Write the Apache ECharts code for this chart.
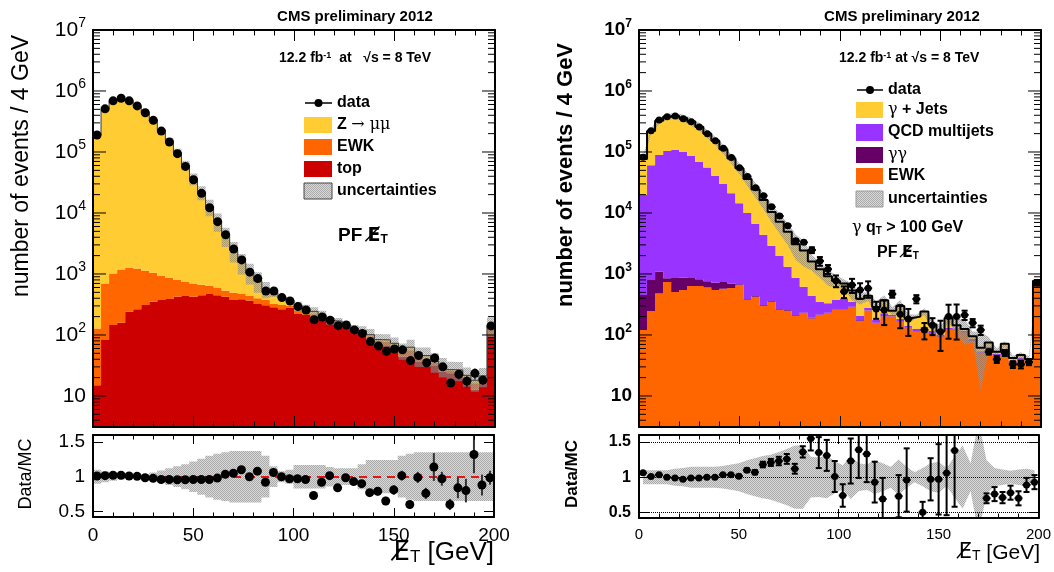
<!DOCTYPE html>
<html>
<head>
<meta charset="utf-8">
<title>PF MET - CMS preliminary 2012</title>
<script src="https://cdn.jsdelivr.net/npm/echarts@6.0.0/dist/echarts.min.js"></script>
<style>
  html, body { margin: 0; padding: 0; background: #fff; }
  #chart { width: 1054px; height: 572px; }
</style>
</head>
<body>
<div id="chart"></div>
<script>
// 50 bins of 4 GeV, the last one also holds the overflow
var binWidth = 4;
var binLow = [];
for (var i = 0; i < 50; i++) binLow.push(i * binWidth);
var binMid = binLow.map(function (x) { return x + binWidth / 2; });

// ---- left: Z -> mumu ----
var topL = [15, 83, 146, 158, 240, 263, 310, 350, 375, 390, 425, 436, 425, 447, 470, 447, 425, 375, 385, 366,
    322, 307, 284, 263, 280, 221, 212, 196, 176, 155, 147, 134, 113, 100, 83, 73, 66, 57, 44, 44,
    36, 32, 31, 25, 23.5, 20.7, 18.3, 12.6, 18.3, 100];
var ewkL = [113, 602, 874, 1032, 1030, 967, 820, 700, 550, 470, 370, 304, 275, 221, 165, 153, 107, 117, 95, 70,
    78, 68, 38, 47, 20, 27, 25, 23, 21, 12, 15, 10, 11, 12, 12, 8, 12, 10, 8, 12,
    7, 9, 4, 4, 2.5, 4, 2.5, 3.5, 2, 35];
var zmmL = [187900, 499000, 679000, 744000, 679000, 566000, 446000, 337000, 228000, 151100, 97200, 60000, 35800, 21200, 12000,
    6750, 3730, 1960, 1070, 634, 378, 195, 173, 100, 71, 52, 31, 25, 17, 4, 7, 4, 6, 6, 6, 3, 5, 6, 4, 7,
    3, 5, 2, 2, 1, 2, 1, 2, 1, 8];
var dataL = [190000, 510000, 690000, 760000, 690000, 570000, 440000, 330000, 220000, 146000, 94000, 58000, 35000, 21000, 12200,
    7200, 4400, 2570, 1700, 1070, 840, 525, 525, 410, 360, 292, 257, 178, 197, 174, 142, 146, 121, 106, 78,
    66, 54, 59, 57, 38, 46, 35, 42, 30, 16.3, 22.7, 17.5, 23.5, 18.2, 141];
var ratioL = [1.01, 1.015, 1.02, 1.02, 1.01, 1.005, 0.985, 0.976, 0.96, 0.96, 0.956, 0.956, 0.96, 0.96, 0.96,
    0.98, 1.034, 1.05, 1.10, 1.0, 1.08, 0.92, 1.06, 1.0, 0.97, 0.97, 0.96, 0.73, 0.92, 1.015,
    0.84, 0.985, 0.93, 0.90, 0.77, 0.79, 0.65, 0.81, 1.015, 0.60, 0.99, 0.76, 1.14, 0.97, 0.60,
    0.84, 0.80, 1.32, 0.88, 0.985];
var ratioErrL = [0.005, 0.005, 0.005, 0.005, 0.005, 0.005, 0.005, 0.005, 0.005, 0.005, 0.005, 0.005, 0.005, 0.005, 0.005,
    0.005, 0.005, 0.005, 0.005, 0.005, 0.01, 0.01, 0.01, 0.01, 0.01, 0.01, 0.02, 0.03, 0.03, 0.04,
    0.04, 0.04, 0.05, 0.05, 0.05, 0.06, 0.06, 0.07, 0.07, 0.06, 0.08, 0.08, 0.2, 0.1, 0.08,
    0.15, 0.17, 0.27, 0.15, 0.1];
var uncL = [0.1, 0.08, 0.06, 0.04, 0.03, 0.02, 0.03, 0.06, 0.09, 0.12, 0.15, 0.18, 0.22, 0.26, 0.3,
    0.33, 0.35, 0.37, 0.37, 0.37, 0.37, 0.3, 0.15, 0.08, 0.1, 0.17, 0.17, 0.17, 0.17, 0.14,
    0.12, 0.12, 0.12, 0.18, 0.24, 0.24, 0.24, 0.24, 0.3, 0.33, 0.35, 0.35, 0.35, 0.35, 0.35,
    0.35, 0.35, 0.35, 0.35, 0.35];

// ---- right: photon + jets ----
var ewkR = [121, 247, 480, 740, 507, 547, 635, 635, 600, 547, 575, 590, 660, 375, 425, 302, 350, 257, 250, 205,
    227, 186, 212, 227, 257, 257, 285, 170, 251, 155, 200, 200, 165, 129, 113, 121, 106, 94, 121, 121,
    110, 80, 50, 60, 45, 55, 35, 38, 33, 720];
var ggR = [330, 550, 620, 110, 350, 320, 225, 185, 160, 170, 165, 110, 20, 10, 12, 8, 10, 7, 7, 6,
    6, 5, 5, 5, 5, 4, 4, 4, 3, 3, 3, 3, 3, 2, 2, 2, 2, 2, 2, 2, 2, 2, 1, 1, 1, 1, 1, 1, 1, 2];
var qcdR = [19200, 60000, 88000, 103000, 107000, 99000, 85000, 68000, 55000, 40000, 29000, 20300, 13700, 9600, 6200,
    4100, 2550, 1700, 1060, 660, 384, 245, 133, 98, 113, 140, 60, 30, 25, 20, 25, 12, 15, 10, 10,
    12, 8, 6, 8, 6, 5, 4, 3, 4, 3, 4, 2, 3, 2, 10];
var gjR = [57300, 161000, 235000, 276000, 286000, 260000, 231000, 191000, 144000, 112000, 81000, 57000, 39600, 26000, 17700,
    11900, 7500, 5200, 3600, 2200, 1800, 1160, 850, 586, 393, 295, 188, 190, 159, 109, 144, 35, 117, 49, 75,
    107, 32, 14, 58, 16, 8, 9, 8, 10, 4, 12, 4, 5, 4, 42];
var dataR = [82000, 224000, 335000, 380000, 390000, 350000, 314000, 257000, 200000, 153000, 115000, 81000, 55000, 39500, 26000,
    19200, 12600, 8900, 6200, 3500, 3300, 2470, 1630, 1200, 776, 514, 660, 547, 582, 267, 257, 470, 219, 182, 390,
    121, 144, 113, 200, 200, 213, 158, 121, 53, 40, 51, 33, 33, 36, 720];
var ratioR = [1.063, 1.01, 1.034, 1.0, 0.99, 0.97, 0.99, 0.99, 1.0, 1.0, 1.034, 1.034, 1.015, 1.10, 1.07,
    1.18, 1.21, 1.23, 1.26, 1.12, 1.36, 1.55, 1.35, 1.31, 1.01, 0.74, 1.23, 1.39, 1.33, 0.93,
    0.69, 1.9, 0.73, 0.96, 1.95, 0.5, 0.97, 0.97, 1.06, 1.38, 2.0, 1.95, 2.0, 0.70, 0.76,
    0.71, 0.78, 0.70, 0.89, 0.93];
var ratioErrR = [0.01, 0.01, 0.01, 0.01, 0.01, 0.01, 0.01, 0.01, 0.01, 0.01, 0.01, 0.015, 0.02, 0.025, 0.03,
    0.04, 0.05, 0.06, 0.07, 0.07, 0.08, 0.17, 0.22, 0.22, 0.22, 0.16, 0.32, 0.4, 0.4, 0.29,
    0.3, 0.25, 0.3, 0.45, 0.3, 0.15, 0.3, 0.5, 0.6, 0.8, 0.35, 0.3, 0.35, 0.07, 0.1,
    0.08, 0.1, 0.1, 0.1, 0.1];
var uncR = [0.1, 0.1, 0.1, 0.1, 0.12, 0.13, 0.15, 0.15, 0.15, 0.15, 0.16, 0.18, 0.2, 0.24, 0.27,
    0.3, 0.32, 0.36, 0.4, 0.45, 0.45, 0.29, 0.28, 0.3, 0.23, 0.17, 0.31, 0.2, 0.18, 0.24,
    0.2, 0.15, 0.25, 0.15, 0.07, 0.13, 0.2, 0.22, 0.13, 0.29, 0.45, 0.2, 0.8, 0.24, 0.13,
    0.11, 0.09, 0.11, 0.12, 0.1];

var logTickLabels = [10, 100, 1e3, 1e4, 1e5, 1e6, 1e7];
var ratioTicks = [0.5, 1, 1.5];
var LOG_MIN = 3.1, LOG_MAX = 1e7;

var FONT = "'Liberation Sans', Arial, Helvetica, sans-serif";
var C_YEL = '#ffcc33', C_ORA = '#ff6600', C_RED = '#cc0000', C_PUR = '#9933ff', C_DPUR = '#660066';

// fine hatch, like the ROOT uncertainty fill
var hatch = (function () {
    var c = document.createElement('canvas');
    c.width = 4; c.height = 4;
    var g = c.getContext('2d');
    g.fillStyle = 'rgba(170,170,170,0.45)';
    g.fillRect(0, 0, 4, 4);
    g.fillStyle = 'rgba(100,100,100,0.4)';
    for (var y = 0; y < 4; y++) for (var x = 0; x < 4; x++) if ((x + y) % 2 === 0) g.fillRect(x, y, 1, 1);
    return { image: c, repeat: 'repeat' };
})();

function cumulate(arrs) {
    var out = [], run = arrs[0].map(function () { return 0; });
    arrs.forEach(function (a) {
        run = run.map(function (s, i) { return s + a[i]; });
        out.push(run);
    });
    return out;
}
var cumL = cumulate([topL, ewkL, zmmL]);
var cumR = cumulate([ewkR, ggR, qcdR, gjR]);
var mcL = cumL[2], mcR = cumR[3];

function stepData(vals) {
    var d = binLow.map(function (x, i) { return [x, vals[i]]; });
    d.push([binLow[binLow.length - 1] + binWidth, vals[vals.length - 1]]);
    return d;
}

// filled region between two per-bin curves; stepped = histogram, otherwise joined at bin centres
function region(lower, upper, fill, xi, yi, stepped, floor, z) {
    return {
        type: 'custom', xAxisIndex: xi, yAxisIndex: yi, z: z || 2, silent: true, clip: true,
        data: [[0, 0]],
        renderItem: function (params, api) {
            var top = [], bot = [];
            for (var i = 0; i < upper.length; i++) {
                var lo = lower ? Math.max(lower[i], floor) : floor;
                if (stepped) {
                    top.push(api.coord([binLow[i], upper[i]]), api.coord([binLow[i] + binWidth, upper[i]]));
                    bot.push(api.coord([binLow[i], lo]), api.coord([binLow[i] + binWidth, lo]));
                } else {
                    top.push(api.coord([binMid[i], upper[i]]));
                    bot.push(api.coord([binMid[i], lo]));
                }
            }
            return { type: 'polygon', shape: { points: top.concat(bot.reverse()) }, style: { fill: fill } };
        }
    };
}

function errBars(vals, errs, xi, yi, opt) {
    return {
        type: 'custom', xAxisIndex: xi, yAxisIndex: yi, z: 5, silent: true, clip: true,
        data: binMid.map(function (x, i) { return [x, vals[i], errs[i]]; }),
        renderItem: function (params, api) {
            var x = api.value(0), v = api.value(1), e = api.value(2);
            var lo = Math.max(v - e, opt.floor);
            var pt = api.coord([x, v + e]), pb = api.coord([x, lo]);
            var st = { stroke: opt.color, lineWidth: opt.width };
            var kids = [{ type: 'line', shape: { x1: pt[0], y1: pt[1], x2: pb[0], y2: pb[1] }, style: st }];
            if (opt.caps) {
                kids.push({ type: 'line', shape: { x1: pt[0] - 3, y1: pt[1], x2: pt[0] + 3, y2: pt[1] }, style: st });
                kids.push({ type: 'line', shape: { x1: pb[0] - 3, y1: pb[1], x2: pb[0] + 3, y2: pb[1] }, style: st });
            }
            if (opt.hbar) {
                var a = api.coord([x - binWidth / 2, v]), b = api.coord([x + binWidth / 2, v]);
                kids.push({ type: 'line', shape: { x1: a[0], y1: a[1], x2: b[0], y2: b[1] }, style: st });
            }
            return { type: 'group', children: kids };
        }
    };
}

function points(vals, xi, yi, size) {
    return {
        type: 'scatter', xAxisIndex: xi, yAxisIndex: yi, z: 6, silent: true, clip: true,
        symbol: 'circle', symbolSize: size, itemStyle: { color: '#000', opacity: 1 },
        data: binMid.map(function (x, i) { return [x, vals[i]]; })
    };
}

function mcLine(vals, xi, yi, color, width) {
    return { type: 'line', xAxisIndex: xi, yAxisIndex: yi, step: 'end', data: stepData(vals), symbol: 'none',
        silent: true, z: 4, lineStyle: { color: color, width: width } };
}

// log axis ticks (ROOT style 1..9 per decade), on both sides of the frame
var logTicks = [];
for (var e = 0; e <= 7; e++) {
    for (var k = 1; k <= 9; k++) {
        var tv = k * Math.pow(10, e);
        if (tv >= LOG_MIN && tv <= LOG_MAX) logTicks.push([0, tv, k === 1 ? 1 : 0]);
    }
}
function logTickSeries(xi, yi) {
    return {
        type: 'custom', xAxisIndex: xi, yAxisIndex: yi, z: 12, silent: true,
        data: logTicks,
        renderItem: function (params, api) {
            var v = api.value(1), big = api.value(2);
            var pl = api.coord([0, v]), pr = api.coord([200, v]);
            var len = big ? 13 : 7;
            var st = { stroke: '#000', lineWidth: 1 };
            return { type: 'group', children: [
                { type: 'line', shape: { x1: pl[0], y1: pl[1], x2: pl[0] + len, y2: pl[1] }, style: st },
                { type: 'line', shape: { x1: pr[0] - len, y1: pr[1], x2: pr[0], y2: pr[1] }, style: st }
            ] };
        }
    };
}

function xAx(grid, pos, labelSize, tickLen) {
    return {
        type: 'value', gridIndex: grid, position: pos, min: 0, max: 200, interval: 50, z: 10,
        axisLine: { show: true, onZero: false, lineStyle: { color: '#000', width: 2 } },
        axisTick: { show: true, inside: true, length: tickLen, lineStyle: { color: '#000' } },
        minorTick: { show: true, splitNumber: 5, length: tickLen / 2, lineStyle: { color: '#000' } },
        splitLine: { show: false },
        axisLabel: labelSize ? { show: true, fontSize: labelSize, fontFamily: FONT, color: '#000', margin: 9 }
            : { show: false }
    };
}

function logLabel(v) {
    var lg = Math.log10(v), n = Math.round(lg);
    if (Math.abs(lg - n) > 1e-6) return '';
    return n === 1 ? '{b|10}' : '{b|10}{s|' + n + '}';
}
function logAx(grid, pos, labelSize, bold) {
    var w = bold ? 'bold' : 'normal';
    return {
        type: 'log', logBase: 10, gridIndex: grid, position: pos, min: LOG_MIN, max: LOG_MAX, z: 10,
        axisLine: { show: true, onZero: false, lineStyle: { color: '#000', width: 2 } },
        axisTick: { show: false }, minorTick: { show: false }, splitLine: { show: false },
        axisLabel: labelSize ? {
            show: true, customValues: logTickLabels, formatter: logLabel, margin: 7,
            rich: {
                b: { fontSize: labelSize, fontWeight: w, fontFamily: FONT, color: '#000', lineHeight: labelSize + 6 },
                s: { fontSize: Math.round(labelSize * 0.65), fontWeight: w, fontFamily: FONT, color: '#000',
                     verticalAlign: 'top', lineHeight: Math.round(labelSize * 0.7) }
            }
        } : { show: false }
    };
}

function ratioAx(grid, pos, labelSize, bold) {
    return {
        type: 'value', gridIndex: grid, position: pos, min: 0.42, max: 1.6, z: 10,
        axisLine: { show: true, onZero: false, lineStyle: { color: '#000', width: 2 } },
        axisTick: { show: true, inside: true, length: 10, customValues: ratioTicks, lineStyle: { color: '#000' } },
        splitLine: { show: false },
        axisLabel: labelSize ? { show: true, customValues: ratioTicks, fontSize: labelSize,
            fontWeight: bold ? 'bold' : 'normal', fontFamily: FONT, color: '#000', margin: 8,
            formatter: function (v) { return String(+v.toFixed(2)); } } : { show: false }
    };
}

// ---------- texts and legends ----------
function txt(x, y, text, size, opt) {
    opt = opt || {};
    var w = opt.bold === false ? 'normal' : 'bold';
    var base = { fontSize: size, fontWeight: w, fontFamily: FONT, fill: '#000' };
    return {
        type: 'text', x: x, y: y, z: 100, rotation: opt.rot || 0, silent: true,
        style: {
            text: text, fontSize: size, fontWeight: w, fontFamily: FONT, fill: '#000',
            align: opt.align || 'left', verticalAlign: 'middle',
            rich: {
                b: base,
                n: { fontSize: size, fontWeight: 'normal', fontFamily: FONT, fill: '#000' },
                m: { fontSize: size, fontWeight: w, fontFamily: "'DejaVu Sans', sans-serif", fill: '#000' },
                g: { fontSize: size, fontWeight: 'normal', fontFamily: "'DejaVu Serif', serif", fill: '#000' },
                sup: { fontSize: Math.round(size * 0.65), fontWeight: w, fontFamily: FONT, fill: '#000',
                       verticalAlign: 'top', lineHeight: Math.round(size * 0.6) },
                sub: { fontSize: Math.round(size * 0.65), fontWeight: w, fontFamily: FONT, fill: '#000',
                       verticalAlign: 'bottom', lineHeight: Math.round(size * 0.5) }
            }
        }
    };
}
function box(x, y, w, h, fill, stroke) {
    return { type: 'rect', z: 100, silent: true, shape: { x: x, y: y, width: w, height: h },
        style: { fill: fill, stroke: stroke || null, lineWidth: stroke ? 1 : 0 } };
}
function dataMarker(x1, x2, y) {
    return [
        { type: 'line', z: 100, silent: true, shape: { x1: x1, y1: y, x2: x2, y2: y }, style: { stroke: '#000', lineWidth: 1.5 } },
        { type: 'circle', z: 101, silent: true, shape: { cx: (x1 + x2) / 2, cy: y, r: 4 }, style: { fill: '#000' } }
    ];
}

var MET = '{m|E\u0338}';

var graphics = [
    // left panel
    txt(355, 17, 'CMS preliminary 2012', 15, { align: 'center' }),
    txt(279, 58, '{b|12.2 fb}{sup|-1}{b|  at   \u221As = 8 TeV}', 14),
    txt(337, 103, 'data', 16),
    txt(337, 125, '{b|Z }{g|\u2192 \u03bc\u03bc}', 16),
    txt(337, 147, 'EWK', 16),
    txt(337, 169, 'top', 16),
    txt(337, 191, 'uncertainties', 16),
    box(304, 117, 28, 16, C_YEL),
    box(304, 139, 28, 16, C_ORA),
    box(304, 161, 28, 16, C_RED),
    box(304, 183, 28, 16, hatch, '#444'),
    txt(338, 236, '{b|PF }' + MET + '{sub|T}', 19),
    txt(22, 166, 'number of events / 4 GeV', 23, { bold: false, rot: Math.PI / 2, align: 'center' }),
    txt(26, 474, 'Data/MC', 18, { bold: false, rot: Math.PI / 2, align: 'center' }),
    txt(494, 553, MET + '{sub|T}{n| [GeV]}', 26, { bold: false, align: 'right' }),
    // right panel
    txt(902, 17, 'CMS preliminary 2012', 15, { align: 'center' }),
    txt(839, 58, '{b|12.2 fb}{sup|-1}{b| at \u221As = 8 TeV}', 14),
    txt(888, 90, 'data', 16),
    txt(888, 110, '{g|\u03b3}{b| + Jets}', 16),
    txt(888, 132, 'QCD multijets', 16),
    txt(888, 155, '{g|\u03b3\u03b3}', 16),
    txt(888, 176, 'EWK', 16),
    txt(888, 199, 'uncertainties', 16),
    box(856, 102, 27, 16, C_YEL),
    box(856, 124, 27, 17, C_PUR),
    box(856, 147, 27, 16, C_DPUR),
    box(856, 168, 27, 16, C_ORA),
    box(856, 191, 27, 16, hatch, '#999'),
    txt(852, 228, '{g|\u03b3}{b| q}{sub|T}{b| > 100 GeV}', 16),
    txt(877, 253, '{b|PF }' + MET + '{sub|T}', 16),
    txt(566, 175, 'number of events / 4 GeV', 22, { rot: Math.PI / 2, align: 'center' }),
    txt(572, 474, 'Data/MC', 17, { rot: Math.PI / 2, align: 'center' }),
    txt(1040, 553, MET + '{sub|T}{n| [GeV]}', 21, { bold: false, align: 'right' })
].concat(dataMarker(305, 332, 103), dataMarker(857, 883, 90));

function scaled(c, u, sign) { return c.map(function (v, i) { return v * (1 + sign * u[i]); }); }
function around1(u, sign) { return u.map(function (x) { return 1 + sign * x; }); }

var series = [];
// left top: stack drawn as cumulative regions
series.push(region(null, cumL[0], C_RED, 0, 0, true, LOG_MIN));
series.push(region(cumL[0], cumL[1], C_ORA, 0, 0, true, LOG_MIN));
series.push(region(cumL[1], cumL[2], C_YEL, 0, 0, true, LOG_MIN));
series.push(region(scaled(mcL, uncL, -1), scaled(mcL, uncL, 1), hatch, 0, 0, true, LOG_MIN, 3));
series.push(mcLine(mcL, 0, 0, '#3a3a3a', 1));
series.push(errBars(dataL, dataL.map(function (v, i) { return v * ratioErrL[i] / ratioL[i]; }), 0, 0,
    { floor: LOG_MIN, color: '#222', width: 1.5 }));
series.push(points(dataL, 0, 0, 9));
series.push(logTickSeries(0, 0));

// left ratio
series.push(region(around1(uncL, -1), around1(uncL, 1), hatch, 2, 2, true, 0, 3));
series.push(errBars(ratioL, ratioErrL, 2, 2, { floor: 0, color: '#333', width: 2 }));
var ptsRL = points(ratioL, 2, 2, 9);
ptsRL.markLine = { silent: true, symbol: 'none', label: { show: false }, animation: false,
    lineStyle: { color: '#ee1111', type: [8, 6], width: 2 }, data: [{ yAxis: 1 }] };
series.push(ptsRL);

// right top
series.push(region(null, cumR[0], C_ORA, 4, 4, true, LOG_MIN));
series.push(region(cumR[0], cumR[1], C_DPUR, 4, 4, true, LOG_MIN));
series.push(region(cumR[1], cumR[2], C_PUR, 4, 4, true, LOG_MIN));
series.push(region(cumR[2], cumR[3], C_YEL, 4, 4, true, LOG_MIN));
series.push(region(scaled(mcR, uncR, -1), scaled(mcR, uncR, 1), hatch, 4, 4, false, LOG_MIN, 3));
series.push(mcLine(mcR, 4, 4, '#000', 2));
series.push(errBars(dataR, dataR.map(function (v, i) { return v * ratioErrR[i] / ratioR[i]; }), 4, 4,
    { floor: LOG_MIN, color: '#000', width: 2, caps: true, hbar: true }));
series.push(points(dataR, 4, 4, 7));
series.push(logTickSeries(4, 4));

// right ratio
series.push(region(around1(uncR, -1), around1(uncR, 1), hatch, 6, 6, false, 0, 3));
series.push(errBars(ratioR, ratioErrR, 6, 6, { floor: 0, color: '#000', width: 2, caps: true, hbar: true }));
var ptsRR = points(ratioR, 6, 6, 7);
ptsRR.markLine = { silent: true, symbol: 'none', label: { show: false }, animation: false,
    lineStyle: { color: '#000', type: 'dotted', width: 1 },
    data: ratioTicks.map(function (t) { return { yAxis: t }; }) };
series.push(ptsRR);

var chart = echarts.init(document.getElementById('chart'), null, { renderer: 'canvas' });
chart.setOption({
    animation: false,
    backgroundColor: '#fff',
    grid: [
        { left: 93, top: 30, width: 402, height: 397 },
        { left: 93, top: 435, width: 401, height: 82 },
        { left: 639, top: 30, width: 402, height: 397 },
        { left: 639, top: 435, width: 402, height: 83 }
    ],
    xAxis: [
        xAx(0, 'bottom', 0, 11), xAx(0, 'top', 0, 11),
        xAx(1, 'bottom', 19, 9), xAx(1, 'top', 0, 9),
        xAx(2, 'bottom', 0, 11), xAx(2, 'top', 0, 11),
        xAx(3, 'bottom', 15, 9), xAx(3, 'top', 0, 9)
    ],
    yAxis: [
        logAx(0, 'left', 21, false), logAx(0, 'right', 0, false),
        ratioAx(1, 'left', 19, false), ratioAx(1, 'right', 0, false),
        logAx(2, 'left', 19, true), logAx(2, 'right', 0, true),
        ratioAx(3, 'left', 16, true), ratioAx(3, 'right', 0, true)
    ],
    series: series,
    graphic: graphics
});
</script>
</body>
</html>
